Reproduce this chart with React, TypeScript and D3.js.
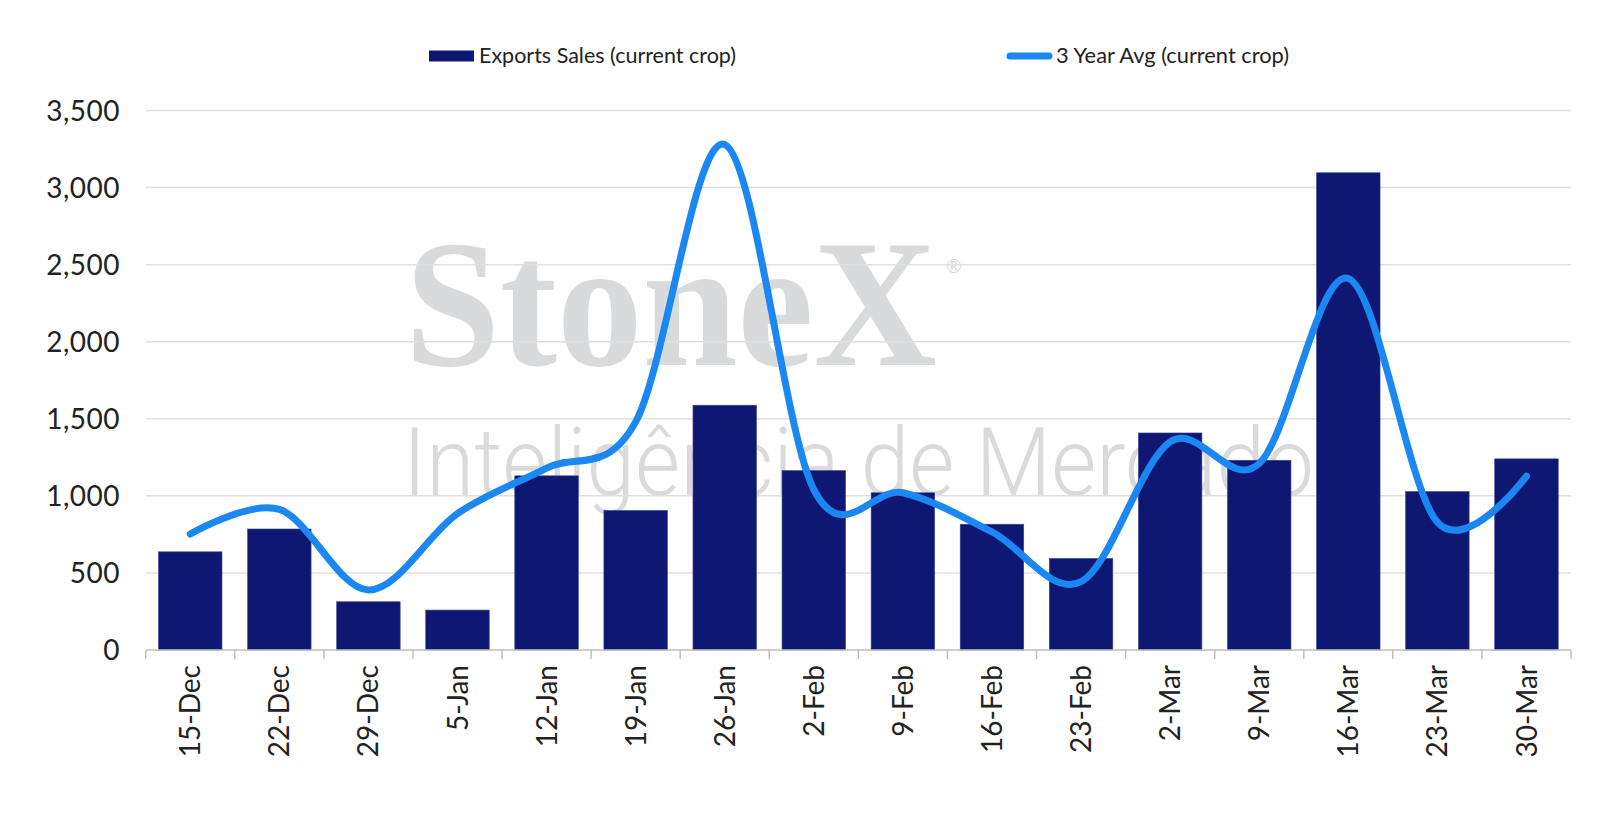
import * as d3 from "d3";

const categories = [
  "15-Dec", "22-Dec", "29-Dec", "5-Jan", "12-Jan", "19-Jan", "26-Jan", "2-Feb",
  "9-Feb", "16-Feb", "23-Feb", "2-Mar", "9-Mar", "16-Mar", "23-Mar", "30-Mar",
];
const exportSales = [
  637, 785, 313, 259, 1130, 905, 1588, 1164, 1020, 816, 594, 1408, 1231, 3096, 1028, 1240,
];
const threeYearAvg = [
  752, 912, 389, 885, 1180, 1480, 3280, 1040, 1020, 767, 443, 1350, 1210, 2410, 830, 1128,
];
const yTicks = [0, 500, 1000, 1500, 2000, 2500, 3000, 3500];
const legendLabels = ["Exports Sales (current crop)", "3 Year Avg (current crop)"];

const W = 1600;
const H = 831;
const BAR = "#0e1873";
const LINE = "#1a87f2";
const FONT = "Lato, 'Noto Sans', sans-serif";

export default function App() {
  const left = 145.7;
  const right = 1571;
  const pad = 0.287;

  const x = d3
    .scaleBand<string>()
    .domain(categories)
    .range([left, right])
    .paddingInner(pad)
    .paddingOuter(pad / 2);
  const y = d3.scaleLinear().domain([0, 3500]).range([650, 110.5]);

  const step = x.step();
  const cx = (c: string) => (x(c) ?? 0) + x.bandwidth() / 2;

  const line = d3
    .line<number>()
    .x((_, i) => cx(categories[i]))
    .y((d) => y(d))
    .curve(d3.curveCardinal.tension(0));

  const fmt = d3.format(",");
  const boundaries = d3.range(categories.length + 1).map((i) => left + i * step);

  return (
    <svg
      width={W}
      height={H}
      style={{ position: "absolute", left: 0, top: 0, background: "#fff" }}
    >
      {/* legend */}
      <g fontFamily={FONT} fontSize={21} fill="#222">
        <rect x={429} y={50.5} width={45} height={11} fill={BAR} />
        <text x={479} y={63} textLength={257} lengthAdjust="spacingAndGlyphs">
          {legendLabels[0]}
        </text>
        <line
          x1={1010}
          x2={1049}
          y1={56}
          y2={56}
          stroke={LINE}
          strokeWidth={7}
          strokeLinecap="round"
        />
        <text x={1056} y={63} textLength={233} lengthAdjust="spacingAndGlyphs">
          {legendLabels[1]}
        </text>
      </g>

      {/* watermark */}
      <g fill="#d9dadc">
        <text
          transform="translate(405,365) scale(1,1.06)"
          fontFamily="'Liberation Serif', 'DejaVu Serif', serif"
          fontWeight="bold"
          fontSize={171}
        >
          StoneX
        </text>
        <text x={946} y={273} fontFamily={FONT} fontSize={19}>
          ®
        </text>
        <text
          x={403}
          y={495}
          fontFamily="Roboto, Lato, sans-serif"
          fontWeight={300}
          fontSize={95}
          textLength={911}
          lengthAdjust="spacingAndGlyphs"
        >
          Inteligência de Mercado
        </text>
      </g>

      {/* gridlines */}
      {yTicks
        .filter((t) => t > 0)
        .map((t) => (
          <line
            key={t}
            x1={left}
            x2={right}
            y1={y(t)}
            y2={y(t)}
            stroke="#e0e0e0"
            strokeWidth={1.5}
          />
        ))}

      {/* y labels */}
      <g fontFamily={FONT} fontSize={28} fill="#222" textAnchor="end">
        {yTicks.map((t) => (
          <text key={t} x={120} y={y(t)} dy="0.36em" letterSpacing={0.5}>
            {fmt(t)}
          </text>
        ))}
      </g>

      {/* bars */}
      {categories.map((c, i) => (
        <rect
          key={c}
          x={x(c)}
          y={y(exportSales[i])}
          width={x.bandwidth()}
          height={y(0) - y(exportSales[i])}
          fill={BAR}
          stroke="#3d4493"
          strokeWidth={0.6}
        />
      ))}

      {/* x axis */}
      <line x1={left} x2={right} y1={y(0)} y2={y(0)} stroke="#bfbfbf" strokeWidth={1.5} />
      {boundaries.map((bx, i) => (
        <line key={i} x1={bx} x2={bx} y1={y(0)} y2={y(0) + 9} stroke="#bfbfbf" strokeWidth={1.5} />
      ))}
      <g fontFamily={FONT} fontSize={28} fill="#222" textAnchor="end">
        {categories.map((c) => (
          <text
            key={c}
            transform={`translate(${cx(c)},${y(0) + 15}) rotate(-90)`}
            dy="0.36em"
          >
            {c}
          </text>
        ))}
      </g>

      {/* line */}
      <path
        d={line(threeYearAvg) ?? ""}
        fill="none"
        stroke={LINE}
        strokeWidth={7}
        strokeLinecap="round"
        strokeLinejoin="round"
      />
    </svg>
  );
}
